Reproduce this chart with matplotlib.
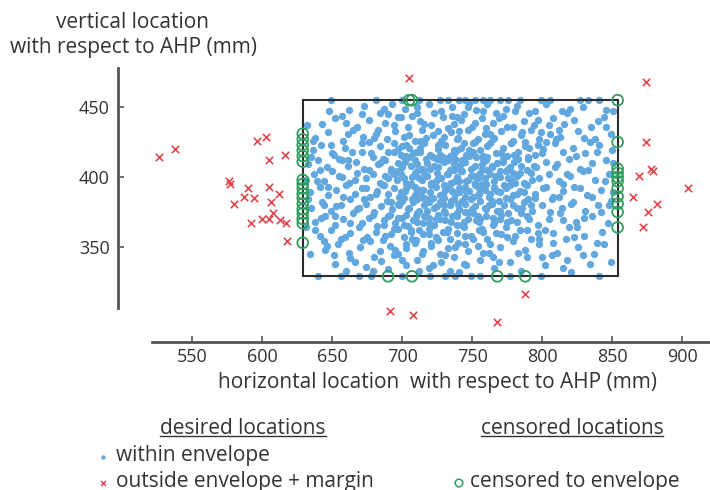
import matplotlib.pyplot as plt
from matplotlib.patches import Rectangle

plt.rcParams['font.family'] = ['Open Sans', 'DejaVu Sans']

# envelope (mm)
env_x = [629, 854]
env_y = [329, 455]

# desired locations inside the envelope (x, y) in mm
within = [
    # on the top / bottom edge
    (649, 455), (681, 455), (700, 455), (712, 455), (727, 455), (733, 455), (741, 455), (745, 455),
    (752, 455), (758, 455), (763, 455), (770, 455), (776, 455), (784, 455), (799, 455), (806, 455),
    (827, 455), (833, 455), (841, 455),
    (640, 329), (656, 329), (669, 329), (678, 329), (700, 329), (720, 329), (731, 329), (738, 329),
    (749, 329), (756, 329), (777, 329), (799, 329), (841, 329),
    # 445-455
    (662, 448), (673, 451), (684, 446), (693, 452), (702, 449), (711, 446), (719, 452), (728, 447),
    (736, 450), (744, 445), (753, 448), (761, 452), (767, 446), (774, 449), (782, 451), (795, 447),
    (803, 452), (818, 446), (829, 450), (846, 448), (690, 445), (748, 453), (657, 444), (739, 443),
    # 435-445
    (643, 438), (652, 442), (668, 436), (676, 441), (688, 439), (697, 443), (704, 436), (713, 440),
    (721, 437), (729, 443), (737, 438), (742, 441), (750, 436), (757, 442), (765, 439), (772, 444),
    (779, 436), (787, 440), (794, 437), (808, 442), (816, 438), (823, 441), (835, 436), (844, 443),
    (707, 444), (760, 435), (683, 434), (726, 433), (799, 432), (661, 431),
    # 425-435
    (638, 428), (647, 432), (658, 426), (665, 434), (672, 429), (681, 431), (689, 427), (695, 433),
    (701, 429), (709, 426), (714, 434), (722, 430), (728, 426), (735, 432), (740, 428), (747, 434),
    (754, 427), (759, 431), (766, 428), (771, 433), (779, 426), (785, 430), (792, 434), (798, 427),
    (806, 431), (813, 429), (826, 433), (838, 427), (849, 431), (733, 435), (717, 428), (744, 424),
    (703, 423), (676, 425), (763, 424), (788, 425),
    # 415-425
    (636, 419), (642, 423), (651, 416), (659, 421), (664, 418), (671, 424), (678, 417), (684, 422),
    (690, 418), (694, 424), (699, 416), (705, 421), (710, 418), (716, 424), (720, 416), (726, 420),
    (731, 423), (737, 417), (742, 421), (746, 416), (751, 424), (756, 419), (761, 422), (767, 417),
    (772, 421), (778, 424), (783, 418), (788, 422), (795, 416), (801, 420), (809, 424), (815, 418),
    (822, 421), (831, 417), (841, 423), (850, 419), (703, 415), (729, 414), (758, 415), (686, 413),
    (713, 421), (775, 415), (739, 419), (697, 420),
    # 405-415
    (633, 409), (640, 412), (646, 407), (655, 413), (661, 408), (667, 411), (673, 406), (679, 414),
    (683, 409), (688, 412), (692, 406), (697, 410), (701, 414), (706, 408), (709, 412), (714, 406),
    (718, 410), (722, 414), (726, 407), (730, 411), (734, 405), (738, 413), (741, 408), (745, 411),
    (749, 406), (753, 414), (757, 409), (760, 412), (764, 407), (768, 410), (772, 413), (776, 406),
    (780, 411), (785, 408), (790, 413), (796, 407), (803, 411), (811, 409), (819, 413), (827, 406),
    (836, 410), (846, 412), (752, 408), (733, 412), (700, 407), (743, 404), (770, 404), (716, 403),
    (694, 402), (761, 405), (725, 413), (779, 403), (711, 409), (748, 415), (737, 409),
    # 395-405
    (631, 398), (637, 402), (644, 397), (650, 404), (657, 400), (662, 396), (668, 403), (674, 399),
    (679, 402), (684, 396), (688, 401), (692, 404), (696, 398), (699, 402), (703, 396), (707, 400),
    (711, 404), (714, 398), (718, 401), (721, 396), (725, 403), (728, 399), (732, 402), (735, 396),
    (739, 400), (742, 404), (746, 397), (749, 401), (752, 396), (756, 403), (759, 399), (763, 402),
    (766, 397), (770, 400), (774, 404), (778, 398), (782, 401), (787, 396), (792, 403), (798, 399),
    (805, 402), (812, 397), (820, 401), (829, 404), (838, 398), (848, 402), (737, 405), (716, 405),
    (760, 395), (730, 394), (745, 393), (709, 393), (766, 392), (724, 397), (754, 399), (701, 399),
    (777, 394), (741, 397), (687, 394), (815, 395),
    # 385-395
    (634, 389), (641, 393), (647, 387), (653, 391), (660, 394), (666, 388), (671, 392), (677, 386),
    (682, 390), (686, 394), (690, 388), (694, 392), (698, 386), (702, 390), (705, 394), (709, 387),
    (713, 391), (716, 385), (720, 389), (724, 393), (727, 387), (731, 391), (734, 395), (738, 388),
    (741, 392), (745, 386), (748, 390), (752, 394), (755, 388), (759, 391), (762, 386), (766, 393),
    (770, 389), (774, 392), (779, 387), (784, 390), (789, 394), (795, 388), (801, 392), (808, 386),
    (815, 390), (823, 393), (832, 387), (842, 391), (851, 389), (730, 385), (757, 395), (743, 383),
    (719, 382), (764, 383), (700, 383), (736, 390), (711, 389), (751, 386), (790, 384), (673, 384),
    # 375-385
    (635, 378), (643, 382), (649, 376), (656, 380), (663, 384), (668, 377), (674, 381), (680, 375),
    (685, 379), (689, 383), (693, 377), (697, 381), (701, 385), (705, 378), (708, 382), (712, 376),
    (716, 380), (719, 384), (723, 378), (727, 382), (730, 376), (734, 380), (737, 384), (741, 377),
    (745, 381), (748, 375), (752, 379), (756, 383), (760, 377), (764, 381), (768, 376), (773, 380),
    (777, 384), (782, 378), (787, 382), (793, 376), (800, 380), (807, 384), (814, 378), (822, 382),
    (831, 376), (840, 380), (849, 383), (711, 384), (726, 373), (754, 372), (739, 374), (703, 373),
    (771, 373), (690, 372), (716, 372),
    # 365-375
    (638, 368), (645, 372), (652, 366), (658, 370), (665, 374), (671, 367), (676, 371), (682, 365),
    (687, 369), (691, 373), (695, 367), (700, 371), (704, 365), (708, 369), (711, 374), (715, 367),
    (719, 371), (723, 366), (727, 370), (731, 374), (735, 368), (739, 372), (743, 366), (747, 370),
    (751, 374), (755, 368), (760, 372), (765, 366), (770, 370), (776, 374), (782, 368), (789, 372),
    (797, 366), (805, 370), (813, 374), (824, 368), (836, 372), (847, 367), (733, 363), (712, 362),
    (757, 363), (694, 363),
    # 355-365
    (641, 358), (649, 362), (656, 356), (663, 360), (669, 364), (675, 357), (681, 361), (686, 355),
    (692, 359), (697, 363), (701, 357), (706, 361), (710, 355), (715, 359), (719, 363), (724, 357),
    (729, 361), (734, 356), (739, 360), (744, 364), (749, 358), (755, 362), (761, 356), (767, 360),
    (774, 364), (781, 358), (789, 362), (798, 356), (808, 360), (819, 364), (830, 358), (843, 361),
    (721, 353), (745, 352), (703, 352),
    # 345-355
    (645, 348), (654, 352), (662, 346), (670, 350), (677, 354), (684, 347), (691, 351), (697, 345),
    (703, 349), (709, 353), (715, 347), (721, 351), (727, 345), (733, 349), (740, 353), (747, 347),
    (754, 351), (762, 346), (770, 350), (779, 354), (788, 348), (798, 352), (811, 346), (826, 350),
    (839, 353),
    # 335-345
    (652, 338), (663, 342), (674, 336), (685, 340), (694, 344), (703, 337), (711, 341), (719, 335),
    (728, 339), (737, 343), (746, 337), (756, 341), (766, 335), (777, 339), (789, 343), (802, 337),
    (818, 341), (834, 338), (712, 333), (741, 332), (690, 334), (765, 343),
    # denser core
    (697, 371), (699, 389), (702, 411), (704, 377), (706, 395), (708, 417), (710, 372), (712, 399),
    (714, 386), (717, 413), (719, 367), (721, 394), (723, 408), (725, 379), (727, 416), (729, 388),
    (731, 369), (733, 402), (735, 383), (737, 419), (739, 366), (741, 389), (743, 412), (745, 375),
    (747, 398), (749, 384), (751, 418), (753, 369), (755, 392), (757, 406), (759, 378), (761, 414),
    (763, 388), (765, 371), (767, 401), (769, 383), (771, 417), (773, 394), (775, 368), (777, 407),
    (779, 380), (781, 396), (783, 413), (785, 374), (787, 389), (789, 405), (791, 370), (793, 398),
    (795, 385),
    (696, 404), (698, 380), (701, 366), (703, 392), (705, 414), (707, 384), (709, 403), (711, 368),
    (713, 418), (715, 391), (718, 376), (720, 406), (722, 385), (724, 370), (726, 399), (728, 412),
    (730, 380), (732, 393), (734, 415), (736, 372), (738, 397), (740, 381), (742, 409), (744, 368),
    (746, 390), (748, 419), (750, 377), (752, 401), (754, 387), (756, 370), (758, 413), (760, 395),
    (762, 380), (764, 408), (766, 367), (768, 390), (770, 376), (772, 411), (774, 385), (776, 399),
    (778, 369), (780, 416), (782, 388), (784, 403), (786, 378), (788, 395), (790, 414), (792, 380),
    (794, 408),
    (700, 422), (706, 362), (713, 426), (719, 359), (726, 423), (732, 361), (739, 427), (745, 358),
    (752, 425), (758, 361), (765, 427), (771, 359), (778, 424), (784, 362), (791, 421), (797, 360),
    (694, 418), (692, 382), (690, 399), (687, 366), (684, 410), (681, 388), (679, 373), (676, 405),
    (674, 392), (671, 418), (669, 378), (666, 398), (663, 367), (661, 412), (658, 386), (655, 401),
    (652, 372), (650, 417), (647, 393), (644, 380), (641, 405), (638, 362), (635, 414), (633, 384),
    # right part
    (800, 417), (803, 393), (806, 375), (809, 407), (812, 386), (815, 369), (818, 402), (821, 381),
    (824, 415), (827, 392), (830, 371), (833, 405), (836, 386), (839, 418), (842, 375), (845, 397),
    (848, 380), (851, 410), (802, 362), (810, 427), (817, 356), (825, 364), (834, 425), (844, 352),
    (807, 344), (829, 344), (846, 436), (814, 447), (803, 425), (797, 423),
    # upper part
    (648, 447), (660, 439), (671, 445), (680, 428), (687, 449), (694, 437), (699, 443), (705, 430),
    (711, 450), (716, 438), (723, 446), (730, 429), (736, 444), (741, 433), (747, 450), (752, 439),
    (758, 447), (763, 431), (769, 442), (775, 436), (781, 447), (786, 432), (791, 446), (797, 441),
    (805, 437), (812, 434), (820, 449), (830, 428), (840, 440), (851, 447),
    # lower part
    (644, 354), (651, 344), (659, 357), (666, 339), (672, 355), (680, 343), (688, 358), (695, 348),
    (700, 341), (707, 356), (714, 345), (722, 337), (726, 355), (731, 344), (738, 350), (744, 338),
    (751, 356), (758, 346), (763, 352), (769, 339), (775, 357), (783, 346), (792, 356), (800, 343),
    (808, 353), (815, 335), (823, 357), (837, 345), (849, 339), (660, 333), (679, 333), (734, 333),
    (785, 333), (821, 332),
    # left part
    (632, 437), (636, 426), (639, 397), (642, 371), (646, 351), (649, 423), (653, 379), (657, 412),
    (631, 364), (634, 345),
]
within_x = [p[0] for p in within]
within_y = [p[1] for p in within]

# desired locations outside envelope + margin
out_x = [526, 538, 576, 577, 590, 587, 594, 580, 596, 603, 605, 616, 605, 612, 606, 608, 592, 600,
         605, 613, 617, 618, 705, 874, 874, 878, 879, 869, 904, 865, 882, 876, 872, 788, 768, 691, 708]
out_y = [414, 420, 397, 395, 392, 386, 385, 381, 426, 429, 412, 416, 393, 388, 382, 374, 367, 370,
         370, 369, 367, 354, 471, 468, 425, 406, 404, 401, 392, 386, 381, 375, 364, 316, 296, 304, 301]

# censored to envelope
cens_left_y = [431, 427, 423, 419, 415, 411, 398, 395, 392, 388, 385, 381, 377, 374, 370, 367, 353]
cens_right_y = [455, 425, 406, 403, 400, 397, 392, 386, 381, 375, 364]
cens_top_x = [705, 707]
cens_bottom_x = [690, 707, 768, 788]

cens_x = [env_x[0]] * len(cens_left_y) + [env_x[1]] * len(cens_right_y) + cens_top_x + cens_bottom_x
cens_y = cens_left_y + cens_right_y + [env_y[1]] * len(cens_top_x) + [env_y[0]] * len(cens_bottom_x)

blue = '#62a8de'
red = '#e0474f'
green = '#2f9e5f'
txt = '#333333'
fs = 15

fig = plt.figure(figsize=(7.1, 4.9), dpi=100)
ax = fig.add_axes([118/710, 1 - 342/490, (710-118)/710, (342-68)/490])

ax.scatter(within_x, within_y, s=28, color=blue, linewidths=0, zorder=2)
ax.add_patch(Rectangle((env_x[0], env_y[0]), env_x[1]-env_x[0], env_y[1]-env_y[0],
                       fill=False, edgecolor='#2b2b2b', lw=1.5, zorder=3))
ax.scatter(out_x, out_y, s=28, marker='x', color=red, linewidths=1.2, zorder=4)
ax.scatter(cens_x, cens_y, s=60, facecolors='none', edgecolors=green, linewidths=1.3, zorder=5)

ax.set_xlim(497, 920)
ax.set_ylim(282, 478)
ax.spines['top'].set_visible(False)
ax.spines['right'].set_visible(False)
ax.spines['left'].set_bounds(306, 478)
ax.spines['bottom'].set_bounds(521, 920)
for s in ['left', 'bottom']:
    ax.spines[s].set_color('#555555')
    ax.spines[s].set_linewidth(2)
ax.set_xticks([550, 600, 650, 700, 750, 800, 850, 900])
ax.set_yticks([350, 400, 450])
ax.tick_params(direction='in', length=4, width=1.2, color='#555555', labelsize=13,
               labelcolor=txt)
ax.tick_params(axis='x', pad=4)
ax.tick_params(axis='y', pad=6)

fig.text(438/710, 1 - 382/490, 'horizontal location  with respect to AHP (mm)',
         ha='center', va='center', fontsize=fs, color=txt)
fig.text(133/710, 1 - 22/490, 'vertical location', ha='center', va='center',
         fontsize=fs, color=txt)
fig.text(133/710, 1 - 48/490, 'with respect to AHP (mm)', ha='center', va='center',
         fontsize=fs, color=txt)

# legend drawn in pixel coordinates
lg = fig.add_axes([0, 0, 1, 1])
lg.set_xlim(0, 710)
lg.set_ylim(490, 0)
lg.axis('off')
lg.patch.set_alpha(0)

h1 = lg.text(243, 428, 'desired locations', ha='center', va='center', fontsize=fs, color=txt)
h2 = lg.text(572, 428, 'censored locations', ha='center', va='center', fontsize=fs, color=txt)
lg.scatter([103], [457], s=10, color=blue, linewidths=0)
lg.text(116, 455, 'within envelope', ha='left', va='center', fontsize=fs, color=txt)
lg.scatter([103], [483], s=14, marker='x', color=red, linewidths=1)
lg.text(116, 481, 'outside envelope + margin', ha='left', va='center', fontsize=fs, color=txt)
lg.scatter([459], [483], s=30, facecolors='none', edgecolors=green, linewidths=1.1)
lg.text(470, 481, 'censored to envelope', ha='left', va='center', fontsize=fs, color=txt)

fig.canvas.draw()
inv = lg.transData.inverted()
for h in [h1, h2]:
    bb = h.get_window_extent()
    (x0, y0), (x1, y1) = inv.transform([[bb.x0, bb.y0], [bb.x1, bb.y1]])
    lg.plot([x0, x1], [y0 - 2.5, y0 - 2.5], color=txt, lw=1)

fig.savefig('out.png', dpi=100)
